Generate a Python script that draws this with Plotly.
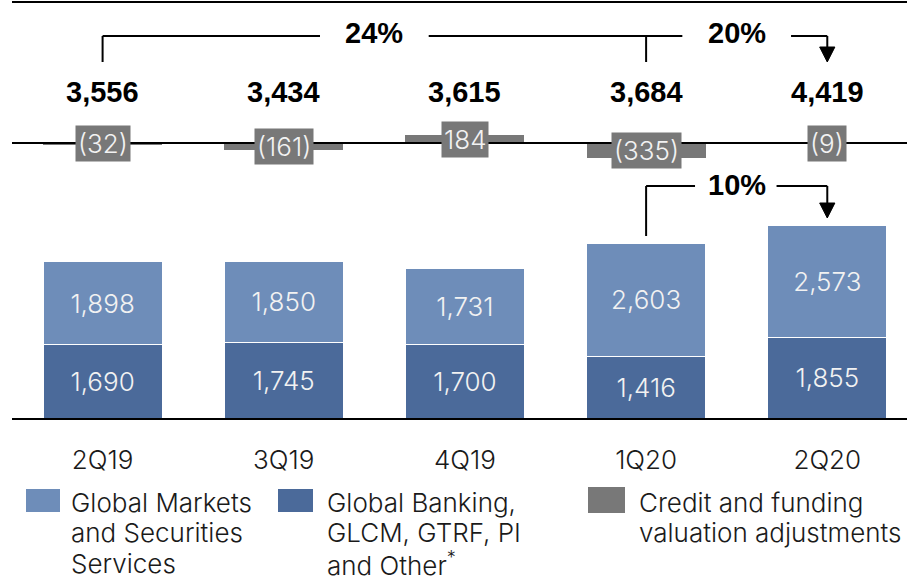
import plotly.graph_objects as go

# ---- data ----
quarters = ["2Q19", "3Q19", "4Q19", "1Q20", "2Q20"]
global_markets = [1898, 1850, 1731, 2603, 2573]
global_banking = [1690, 1745, 1700, 1416, 1855]
credit_adj = [-32, -161, 184, -335, -9]
growth_labels = ["24%", "20%", "10%"]
legend_names = [
    ["Global Markets", "and Securities", "Services"],
    ["Global Banking,", "GLCM, GTRF, PI", "and Other<sup>*</sup>"],
    ["Credit and funding", "valuation adjustments"],
]

# ---- style ----
W, H = 907, 577
C_LIGHT = "#6E8DB9"
C_DARK = "#4B6A9A"
C_GRAY = "#787878"
TXT = "#1a1a1a"
LIGHT_FONT = "Inter, Roboto, sans-serif"
BOLD_FONT = "Liberation Sans, Arial, sans-serif"
FS = 26
SCALE = 0.0435          # px per unit
PLOT_BOTTOM = 418       # px
MID_LINE = 143          # px
BAR_W = 0.657

def yp(p):
    return 1 - p / H

def xp(p):
    return p / W

xs = list(range(len(quarters)))
totals = [a + b + c for a, b, c in zip(global_markets, global_banking, credit_adj)]
light = dict(family=LIGHT_FONT, size=FS, weight=300)

fig = go.Figure()
fig.add_trace(go.Bar(
    x=xs, y=global_banking, name="Global Banking", width=BAR_W,
    marker=dict(color=C_DARK, line=dict(color="white", width=1)),
    texttemplate="%{y:,}", textposition="inside", insidetextanchor="middle",
    textfont=dict(light, color="#f2f2f2"),
    hoverinfo="skip",
))
fig.add_trace(go.Bar(
    x=xs, y=global_markets, name="Global Markets", width=BAR_W,
    marker=dict(color=C_LIGHT, line=dict(color="white", width=1)),
    texttemplate="%{y:,}", textposition="inside", insidetextanchor="middle",
    textfont=dict(light, color="#f2f2f2"),
    hoverinfo="skip",
))
fig.add_trace(go.Bar(
    x=xs, y=credit_adj, name="Credit and funding", width=BAR_W, yaxis="y2",
    marker=dict(color=C_GRAY, line=dict(width=0)),
    hoverinfo="skip",
))

ydom0 = 1 - PLOT_BOTTOM / H
fig.update_layout(
    width=W, height=H,
    margin=dict(l=0, r=0, t=0, b=0),
    paper_bgcolor="white", plot_bgcolor="white",
    barmode="stack", showlegend=False,
    xaxis=dict(
        type="linear", domain=[xp(12), 1], range=[-0.5, 4.44],
        tickvals=xs, ticktext=quarters, ticks="outside", ticklen=18,
        tickcolor="rgba(0,0,0,0)", showgrid=False, zeroline=False,
        showline=True, linecolor="black", linewidth=2,
        tickfont=dict(light, color=TXT),
    ),
    yaxis=dict(domain=[ydom0, 1], range=[0, PLOT_BOTTOM / SCALE], visible=False),
    yaxis2=dict(overlaying="y", anchor="x",
                range=[-(PLOT_BOTTOM - MID_LINE) / SCALE, MID_LINE / SCALE],
                visible=False),
)

shapes = []
LINE = dict(color="black", width=2)
# top border & middle line
shapes.append(dict(type="line", xref="paper", yref="paper", x0=xp(12), x1=1,
                   y0=yp(2), y1=yp(2), line=LINE))
shapes.append(dict(type="line", xref="paper", yref="y2", x0=xp(12), x1=1,
                   y0=0, y1=0, line=LINE, layer="above"))

# brackets (x in category index units, y in paper)
yt, yb = yp(36), yp(62)
def seg(x0, y0, x1, y1):
    return dict(type="line", xref="x", yref="paper", x0=x0, y0=y0, x1=x1, y1=y1,
                line=LINE, layer="above")
def head(x, ytop, ytip, hw=0.042):
    return dict(type="path", xref="x", yref="paper",
                path=f"M {x-hw},{ytop} L {x+hw},{ytop} L {x},{ytip} Z",
                fillcolor="black", line=dict(color="black", width=1), layer="above")

shapes += [
    seg(0, yb, 0, yt), seg(0, yt, 1.2, yt),
    seg(1.8, yt, 3.2, yt), seg(3, yt, 3, yb),
    seg(3.8, yt, 4, yt), seg(4, yt, 4, yp(48)), head(4, yp(47), yp(62)),
]
y10, y10b = yp(186), yp(236)
shapes += [
    seg(3, y10b, 3, y10), seg(3, y10, 3.27, y10),
    seg(3.72, y10, 4, y10), seg(4, y10, 4, yp(204)), head(4, yp(203), yp(218)),
]

# legend swatches
for (x0, x1, y0, y1), col in zip(
        [(26, 60, 489, 512), (278, 313, 489, 512), (588, 625, 487, 513)],
        [C_LIGHT, C_DARK, C_GRAY]):
    shapes.append(dict(type="rect", xref="paper", yref="paper",
                       x0=xp(x0), x1=xp(x1), y0=yp(y0), y1=yp(y1),
                       fillcolor=col, line=dict(width=0)))

annotations = []
# totals
for x, t in zip(xs, totals):
    annotations.append(dict(x=x, y=yp(92), xref="x", yref="paper", text=f"<b>{t:,}</b>",
                            xanchor="center", yanchor="middle", showarrow=False,
                            font=dict(family=BOLD_FONT, size=29, color="black")))
# growth labels
for (x, ypx), lab in zip([(1.5, 33), (3.5, 33), (3.5, 185)], growth_labels):
    annotations.append(dict(x=x, y=yp(ypx), xref="x", yref="paper", text=f"<b>{lab}</b>",
                            xanchor="center", yanchor="middle", showarrow=False,
                            font=dict(family=BOLD_FONT, size=29, color="black")))
# credit labels
for x, v in zip(xs, credit_adj):
    lab = f"({abs(v)})" if v < 0 else f"{v:,}"
    annotations.append(dict(x=x, y=v / 2, xref="x", yref="y2", text=lab, showarrow=False,
                            xanchor="center", yanchor="middle",
                            bgcolor=C_GRAY, borderpad=2,
                            font=dict(light, color="#f2f2f2")))
# legend text (one annotation per line)
for xpx, lines in zip([69, 325, 637], legend_names):
    for i, line in enumerate(lines):
        annotations.append(dict(x=xp(xpx), y=yp(502 + 30.5 * i), xref="paper", yref="paper",
                                text=line, showarrow=False, xanchor="left", yanchor="middle",
                                font=dict(light, color=TXT)))

fig.update_layout(shapes=shapes, annotations=annotations)
fig.write_html("out.html", config={"displayModeBar": False},
               post_script="document.body.style.margin='0';")
